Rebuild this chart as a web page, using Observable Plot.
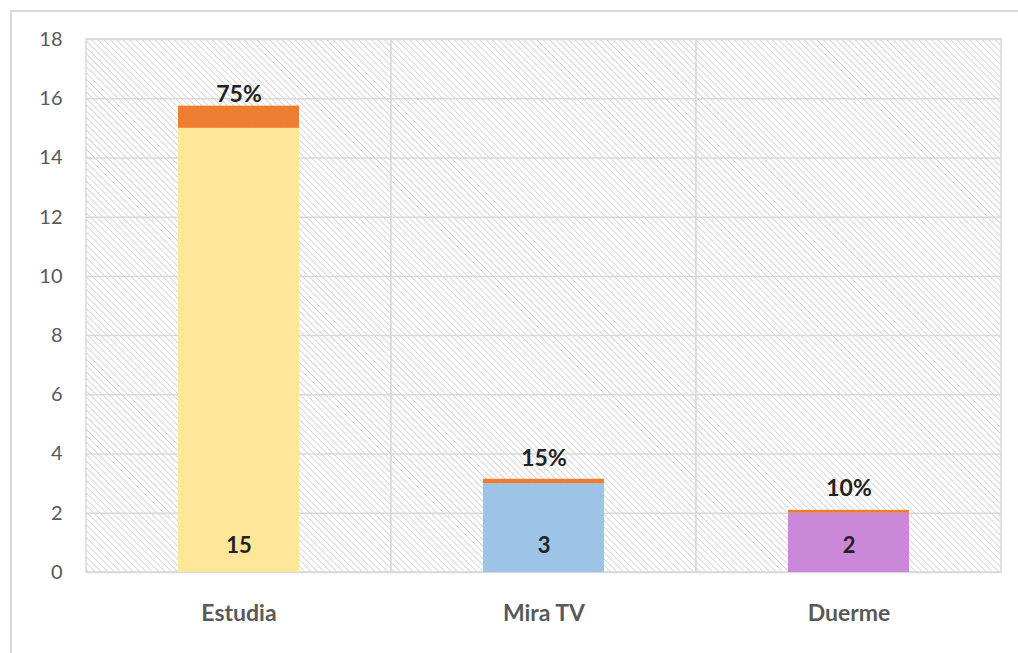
<!DOCTYPE html>
<html>
<head>
<meta charset="utf-8">
<script src="https://cdn.jsdelivr.net/npm/d3@7"></script>
<script src="https://cdn.jsdelivr.net/npm/@observablehq/plot@0.6"></script>
<style>
  html, body { margin: 0; padding: 0; background: #fff; }
  #wrap { position: relative; width: 1018px; height: 653px; overflow: hidden; }
  #frame { position: absolute; left: 10px; top: 10px; width: 1030px; height: 680px;
           border: 2px solid #d9d9d9; box-sizing: border-box; }
  #chart { position: absolute; left: 0; top: 0; }
</style>
</head>
<body>
<div id="wrap"><div id="frame"></div><div id="chart"></div></div>
<script>
const categories = ["Estudia", "Mira TV", "Duerme"];
const counts = [15, 3, 2];
const shares = [0.75, 0.15, 0.10];
const shareLabels = ["75%", "15%", "10%"];
const barColors = ["#FFE699", "#9DC3E6", "#CC88D8"];
const yTicks = [0, 2, 4, 6, 8, 10, 12, 14, 16, 18];

const rows = categories.map((c, i) => ({
  cat: c, count: counts[i], share: shares[i], shareLabel: shareLabels[i], color: barColors[i]
}));

const font = "Lato, 'Open Sans', sans-serif";

const chart = Plot.plot({
  width: 1018,
  height: 653,
  marginLeft: 86,
  marginRight: 17,
  marginTop: 39,
  marginBottom: 81,
  style: { fontFamily: font, background: "transparent" },
  x: { domain: categories, padding: 0, label: null },
  y: { domain: [0, 18], ticks: yTicks, label: null },
  marks: [
    Plot.cell(categories, { x: d => d, fill: "url(#hatch)", stroke: "#d9d9d9", strokeWidth: 1.5 }),
    Plot.gridY(yTicks, { stroke: "#d9d9d9", strokeOpacity: 1, strokeWidth: 1.5 }),
    Plot.barY(rows, { x: "cat", y1: 0, y2: "count", fill: "color", insetLeft: 92, insetRight: 92 }),
    Plot.barY(rows, { x: "cat", y1: "count", y2: d => d.count + d.share, fill: "#ED7D31", insetLeft: 92, insetRight: 92 }),
    Plot.text(rows, { x: "cat", y: 0, text: d => String(d.count), dy: -27, fill: "#222", fontSize: 22, fontWeight: "bold" }),
    Plot.text(rows, { x: "cat", y: d => d.count + d.share / 2, text: "shareLabel", dy: -23, fill: "#222", fontSize: 23, fontWeight: "bold" }),
    Plot.axisY({ ticks: yTicks, tickSize: 0, tickPadding: 24, fontSize: 20, fill: "#595959", label: null }),
    Plot.axisX({ tickSize: 0, tickPadding: 32, fontSize: 23, fontWeight: "bold", fill: "#595959", label: null })
  ]
});

const svg = d3.select(chart);
const defs = svg.insert("defs", ":first-child");
const pat = defs.append("pattern")
  .attr("id", "hatch")
  .attr("patternUnits", "userSpaceOnUse")
  .attr("width", 4.5)
  .attr("height", 4.5)
  .attr("patternTransform", "rotate(-45)");
pat.append("rect").attr("width", 4.5).attr("height", 4.5).attr("fill", "#fff");
pat.append("line").attr("x1", 0).attr("y1", 0).attr("x2", 0).attr("y2", 4.5)
  .attr("stroke", "#cfcfcf").attr("stroke-width", 1.6);

document.getElementById("chart").appendChild(chart);
</script>
</body>
</html>
